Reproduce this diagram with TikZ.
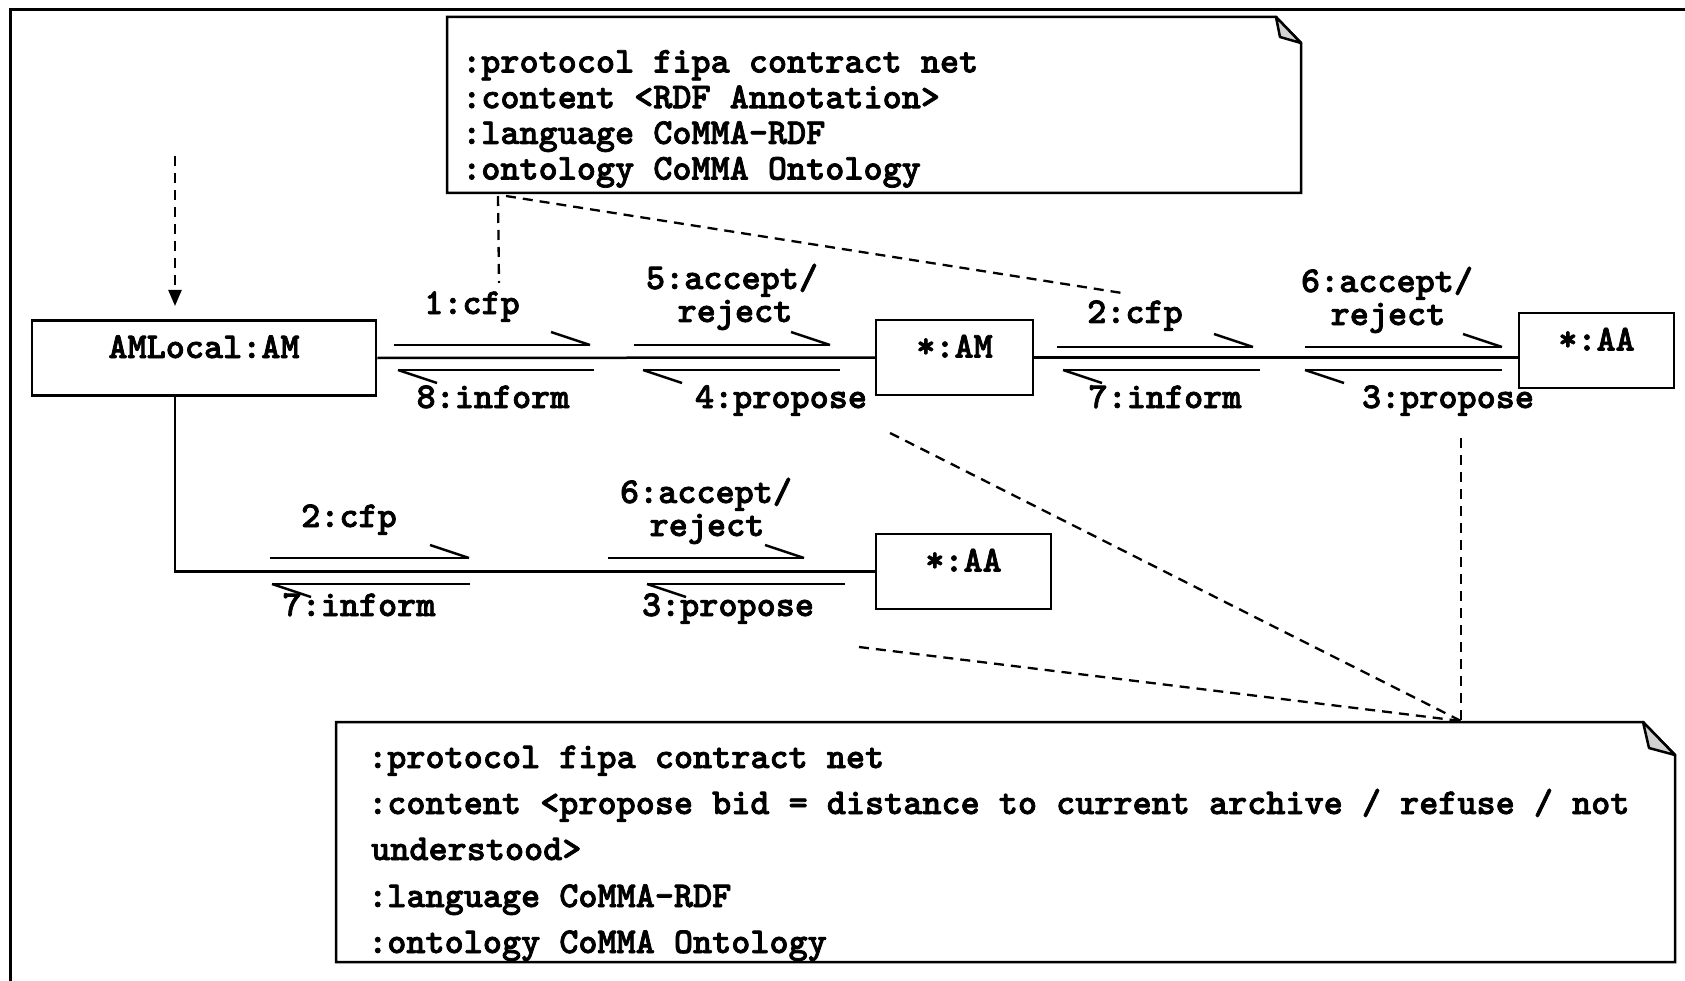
\documentclass[tikz,border=0pt]{standalone}
\usepackage{fontspec}
\usetikzlibrary{arrows.meta}
\newfontfamily\courfont[FakeBold=2]{lmmonolt10-bold.otf}
\newcommand\lbfont{\courfont\fontsize{36.4}{40}\selectfont}
\tikzset{
  lbl/.style={font=\lbfont, inner sep=0pt, anchor=base},
  obj/.style={draw, line width=2.5pt, inner sep=0pt, font=\lbfont, text height=37.5pt, text depth=37.5pt, minimum height=75pt},
  msg/.style={line width=2.5pt},
  dsh/.style={line width=2.3pt, dash pattern=on 10pt off 7pt},
  notebox/.style={draw, line width=2.5pt, fill=white, line join=miter},
  fold/.style={draw, line width=2.5pt, fill=black!18, line join=round},
  notetxt/.style={font=\lbfont, inner sep=0pt, anchor=base west},
  frame/.style={line width=3pt},
}
\begin{document}
\begin{tikzpicture}[x=1pt,y=-1pt]
\useasboundingbox (0,0) rectangle (1685,981);
% outer frame
\coordinate (fr1) at (10,981);
\coordinate (fr2) at (10,10);
\coordinate (fr3) at (1685,10);
\draw[frame] (fr1) -- (fr2) -- (fr3);

% objects
\node[obj, minimum width=344pt] (amlocal) at (204,358) {AMLocal:AM};
\node[obj, minimum width=157pt] (am) at (954.5,357.5) {*:AM};
\node[obj, minimum width=155pt] (aa1) at (1596.5,350.5) {*:AA};
\node[obj, minimum width=175pt] (aa2) at (963.5,571.5) {*:AA};

% links
\coordinate (vx) at (175,0);
\draw[msg] (amlocal.east) -- (am.west);
\draw[msg] (am.east) -- (am.east -| aa1.west);
\draw[msg] (amlocal.south -| vx) |- (aa2.west);

% incoming dashed arrow
\coordinate (arrs) at (175,156);
\coordinate (arre) at (175,306);
\draw[dsh, -{Triangle[length=16pt,width=13pt]}] (arrs) -- (arre);

% half arrows pointing right
\foreach \a/\b/\y in {394/590/345, 634/830/345, 1057/1253/347, 1305/1502/347, 270/469/558, 608/804/558}{
  \draw[msg] (\a,\y) -- (\b,\y);
  \draw[msg] (\b-39,\y-13) -- (\b,\y);
}
% half arrows pointing left
\foreach \a/\b/\y in {398/594/370, 643/840/370, 1063/1260/370, 1305/1502/370, 272/470/584, 647/845/584}{
  \draw[msg] (\a,\y) -- (\b,\y);
  \draw[msg] (\a,\y) -- (\a+39,\y+13);
}

% message labels
\node[lbl] (m1) at (472,314) {1:cfp};
\node[lbl] (m8) at (493,408) {8:inform};
\node[lbl] (m5a) at (732,289) {5:accept/};
\node[lbl] (m5b) at (735,322) {reject};
\node[lbl] (m4) at (781,408) {4:propose};
\node[lbl] (n2) at (1135,323) {2:cfp};
\node[lbl] (n7) at (1165,408) {7:inform};
\node[lbl] (n6a) at (1387,292) {6:accept/};
\node[lbl] (n6b) at (1388,325) {reject};
\node[lbl] (n3) at (1448,408) {3:propose};
\node[lbl] (k2) at (349,527) {2:cfp};
\node[lbl] (k7) at (359,616) {7:inform};
\node[lbl] (k6a) at (706,503) {6:accept/};
\node[lbl] (k6b) at (707,536) {reject};
\node[lbl] (k3) at (728,616) {3:propose};

% dashed note connectors
\coordinate (tn1) at (498,196);
\coordinate (tn1e) at (499,283);
\coordinate (tn2) at (506,196);
\coordinate (tn2e) at (1122,293);
\draw[dsh] (tn1) -- (tn1e);
\draw[dsh] (tn2) -- (tn2e);
\coordinate (bn) at (1461,721);
\coordinate (bv) at (1461,438);
\coordinate (b1) at (890,433);
\coordinate (b2) at (859,647);
\draw[dsh] (bv) -- (bn);
\draw[dsh] (b1) -- (bn);
\draw[dsh] (b2) -- (bn);

% top note
\coordinate (ta) at (447,17);
\coordinate (tb) at (1276,17);
\coordinate (tc) at (1301,43);
\coordinate (td) at (1301,193);
\coordinate (te) at (447,193);
\coordinate (tf) at (1280,37);
\draw[notebox] (ta) -- (tb) -- (tc) -- (td) -- (te) -- cycle;
\draw[fold] (tb) -- (tf) -- (tc) -- cycle;
\node[notetxt] (t1) at (462,72.5) {:protocol fipa contract net};
\node[notetxt] (t2) at (462,108.2) {:content <RDF Annotation>};
\node[notetxt] (t3) at (462,143.9) {:language CoMMA-RDF};
\node[notetxt] (t4) at (462,179.6) {:ontology CoMMA Ontology};

% bottom note
\coordinate (ba) at (336,722);
\coordinate (bb) at (1643,722);
\coordinate (bc) at (1675,755);
\coordinate (bd) at (1675,962);
\coordinate (be) at (336,962);
\coordinate (bf) at (1649,748);
\draw[notebox] (ba) -- (bb) -- (bc) -- (bd) -- (be) -- cycle;
\draw[fold] (bb) -- (bf) -- (bc) -- cycle;
\node[notetxt] (u1) at (368,768) {:protocol fipa contract net};
\node[notetxt] (u2) at (368,814) {:content <propose bid = distance to current archive / refuse / not};
\node[notetxt] (u3) at (371,860) {understood>};
\node[notetxt] (u4) at (368,907) {:language CoMMA-RDF};
\node[notetxt] (u5) at (368,953) {:ontology CoMMA Ontology};
\end{tikzpicture}
\end{document}
